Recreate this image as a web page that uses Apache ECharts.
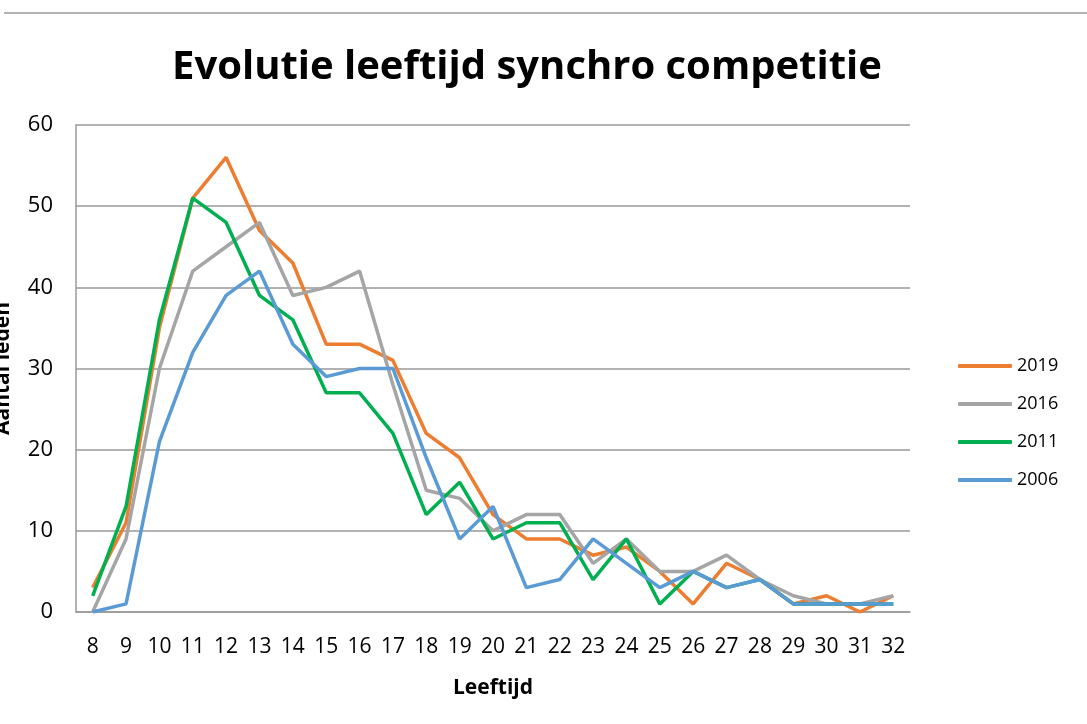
<!DOCTYPE html>
<html><head><meta charset="utf-8">
<script src="https://cdn.jsdelivr.net/npm/echarts@6/dist/echarts.min.js"></script>
<style>html,body{margin:0;padding:0;background:#fff}#c{width:1087px;height:724px}</style>
</head><body><div id="c"></div>
<script>
const categories = ['8','9','10','11','12','13','14','15','16','17','18','19','20','21','22','23','24','25','26','27','28','29','30','31','32'];
const s2019 = [3,11,35,51,56,47,43,33,33,31,22,19,12,9,9,7,8,5,1,6,4,1,2,0,2];
const s2016 = [0,9,30,42,45,48,39,40,42,28,15,14,10,12,12,6,9,5,5,7,4,2,1,1,2];
const s2011 = [2,13,36,51,48,39,36,27,27,22,12,16,9,11,11,4,9,1,5,3,4,1,1,1,1];
const s2006 = [0,1,21,32,39,42,33,29,30,30,19,9,13,3,4,9,6,3,5,3,4,1,1,1,1];
const seriesNames = ['2019','2016','2011','2006'];
const colors = ['#ED7D31','#A5A5A5','#00B050','#5B9BD5'];
const yTicks = {min:0,max:60,interval:10};

const font = 'Open Sans, Noto Sans, sans-serif';
const chart = echarts.init(document.getElementById('c'), null, {renderer:'canvas'});
const data = [s2019,s2016,s2011,s2006];
chart.setOption({
  animation:false,
  color: colors,
  title:{text:'Evolutie leeftijd synchro competitie', left:167, top:43,
    textStyle:{fontFamily:font, fontSize:40, fontWeight:'bold', color:'#000'}},
  graphic:[{type:'line', shape:{x1:4,y1:13,x2:1087,y2:13}, style:{stroke:'#999',lineWidth:1.5}}],
  grid:{left:76,right:177,top:125,bottom:112, outerBoundsMode:'none', containLabel:false},
  legend:{orient:'vertical', left:953, top:352, itemGap:20, itemWidth:54, itemHeight:4, icon:'roundRect',
    textStyle:{fontFamily:font, fontSize:18, color:'#000', padding:[0,0,0,0]},
    data: seriesNames},
  xAxis:{type:'category', data:categories, boundaryGap:true,
    name:'Leeftijd', nameLocation:'middle', nameGap:66,
    nameTextStyle:{fontFamily:font, fontSize:21, fontWeight:'bold', color:'#000'},
    axisLine:{show:true, lineStyle:{color:'#999', width:1.5}}, axisTick:{show:false},
    axisLabel:{fontFamily:font, fontSize:21, color:'#000', margin:25}},
  yAxis:{type:'value', min:yTicks.min, max:yTicks.max, interval:yTicks.interval,
    name:'Aantal leden', nameLocation:'middle', nameGap:62, nameRotate:90,
    nameTextStyle:{fontFamily:font, fontSize:21, fontWeight:'bold', color:'#000'},
    axisLine:{show:true, lineStyle:{color:'#999', width:1.5}}, axisTick:{show:false},
    splitLine:{lineStyle:{color:'#999', width:1.5}},
    axisLabel:{fontFamily:font, fontSize:22, color:'#000', margin:23}},
  series: seriesNames.map((n,i)=>({name:n, type:'line', data:data[i], symbol:'none',
    lineStyle:{width:3.5, color:colors[i]}, itemStyle:{color:colors[i]}}))
});
</script></body></html>
